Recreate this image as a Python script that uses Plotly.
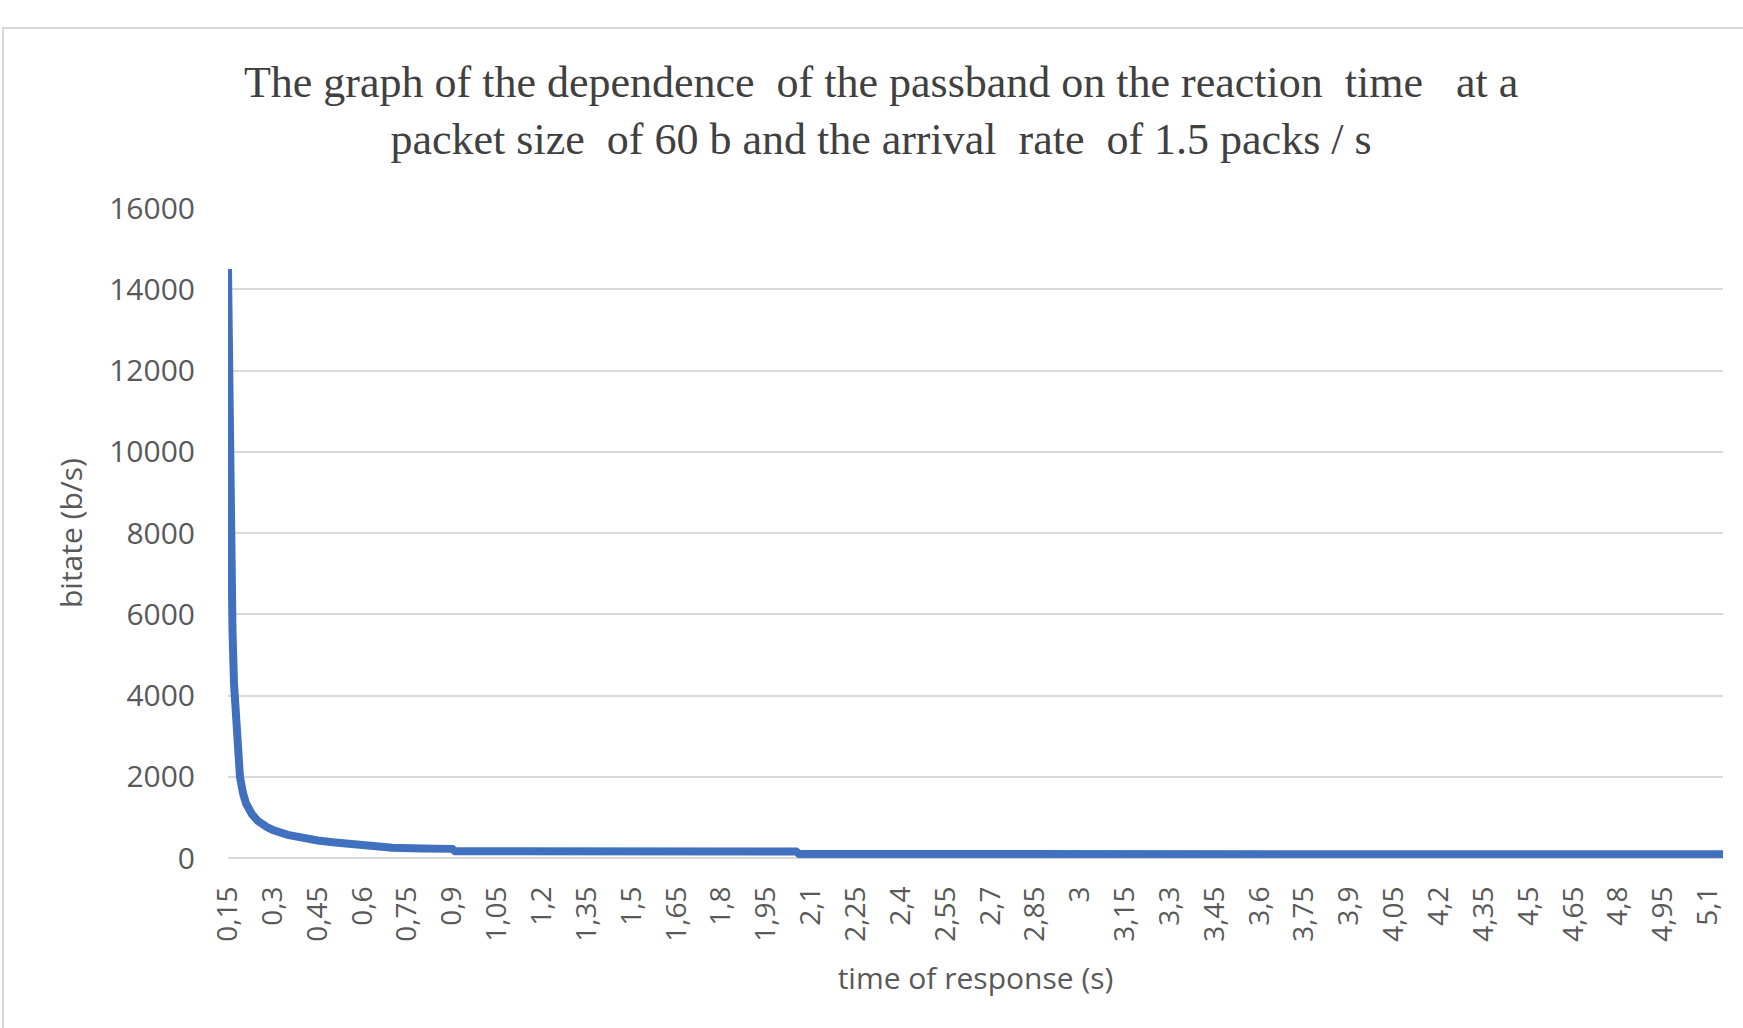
import plotly.graph_objects as go

# Response time (s) and the corresponding bitrate (b/s)
response_time = [0.15, 0.155, 0.16, 0.165, 0.17, 0.175, 0.18, 0.19, 0.20, 0.21, 0.23, 0.25,
                 0.28, 0.30, 0.35, 0.40, 0.45, 0.50, 0.55, 0.60, 0.61, 0.70, 0.80, 0.90,
                 0.91, 1.50, 2.05, 2.06, 3.50, 5.15]
bitrate = [14500, 10500, 7600, 5600, 4300, 3500, 2800, 2000, 1600, 1350, 1080, 910,
           760, 690, 570, 490, 430, 390, 350, 330, 290, 250, 235, 225,
           165, 162, 160, 100, 95, 90]

# Category labels shown along the time axis
time_labels = ["0,15", "0,3", "0,45", "0,6", "0,75", "0,9", "1,05", "1,2", "1,35", "1,5",
               "1,65", "1,8", "1,95", "2,1", "2,25", "2,4", "2,55", "2,7", "2,85", "3",
               "3,15", "3,3", "3,45", "3,6", "3,75", "3,9", "4,05", "4,2", "4,35", "4,5",
               "4,65", "4,8", "4,95", "5,1"]
time_ticks = [float(t.replace(",", ".")) for t in time_labels]

bitrate_ticks = [0, 2000, 4000, 6000, 8000, 10000, 12000, 14000, 16000]
bitrate_labels = [str(v) for v in bitrate_ticks]

NB = "\u00a0"
title_text = ("The graph of the dependence" + NB + " of the passband on the reaction"
              + NB + " time" + NB + "  at a<br>"
              "packet size" + NB + " of 60 b and the arrival" + NB + " rate" + NB
              + " of 1.5 packs / s")

fig = go.Figure()
fig.add_trace(go.Scatter(
    x=response_time, y=bitrate, mode="lines",
    line=dict(color="#4170BE", width=8),
    showlegend=False, hoverinfo="x+y",
))

grid = "#d9d9d9"
fig.update_layout(
    width=1743, height=1028,
    margin=dict(l=228, r=20, t=208, b=170),
    paper_bgcolor="white", plot_bgcolor="white",
    title=dict(text=title_text, xref="container", yref="container",
               x=0.5055, xanchor="center", y=0.906, yanchor="middle",
               font=dict(family="Liberation Serif", size=44, color="#404040")),
    xaxis=dict(range=[0.15, 5.15], tickmode="array", tickvals=time_ticks,
               ticktext=time_labels, tickangle=-90, showgrid=False, zeroline=False,
               showline=False, ticks="", ticklabelstandoff=22,
               tickfont=dict(family="Open Sans", size=28, color="#595959"),
               title=dict(text="time of response (s)", standoff=27,
                          font=dict(family="Open Sans", size=30, color="#595959"))),
    yaxis=dict(range=[0, 16000], tickmode="array", tickvals=bitrate_ticks,
               ticktext=bitrate_labels,
               showgrid=True, gridcolor=grid, gridwidth=2, zeroline=True,
               zerolinecolor=grid, zerolinewidth=2, showline=False, ticks="",
               ticklabelstandoff=32,
               tickfont=dict(family="Open Sans", size=30, color="#595959"),
               title=dict(text="bitate (b/s)", standoff=17,
                          font=dict(family="Open Sans", size=30, color="#595959"))),
    shapes=[dict(type="rect", xref="paper", yref="paper",
                 x0=(3 - 228) / 1495, x1=(1800 - 228) / 1495,
                 y0=(858 - 1100) / 650, y1=(858 - 28) / 650,
                 line=dict(color="#d9d9d9", width=2), fillcolor="rgba(0,0,0,0)",
                 layer="below")],
)

fig.write_html("out.html")
